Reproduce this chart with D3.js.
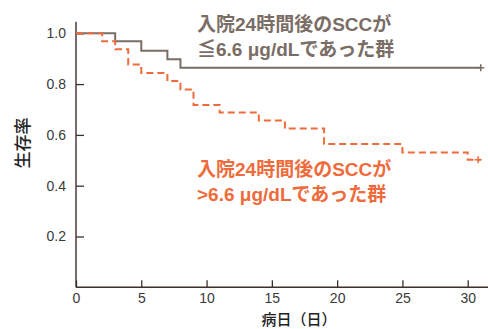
<!DOCTYPE html>
<html><head><meta charset="utf-8">
<script src="https://cdn.jsdelivr.net/npm/d3@7"></script>
<style>
body{margin:0;background:#fff;}
svg{display:block;}
</style>
</head><body>
<svg id="c" width="488" height="329"></svg>
<script>
const xTicks = [0,5,10,15,20,25,30];
const yTicks = [0.2,0.4,0.6,0.8,1.0];
const lowDays = [0,3,5,7,8,31];
const lowSurv = [1.0,0.969,0.931,0.898,0.864,0.864];
const highDays = [0,2,3,4,5,7,8,9,11,14,16,19,25,30,31];
const highSurv = [1.0,0.969,0.937,0.877,0.844,0.812,0.779,0.718,0.688,0.657,0.625,0.564,0.531,0.502,0.502];
const lowCensor = [31];
const highCensor = [30.8];
const lowLabel = ["入院24時間後のSCCが","≦6.6 μg/dLであった群"];
const highLabel = ["入院24時間後のSCCが",">6.6 μg/dLであった群"];
const yTitle = "生存率";
const xTitle = "病日（日）";

const grayC = "#7a6d65", orangeC = "#ef6b3b", axisC = "#3b302c";
const svg = d3.select("#c");
const x = d3.scaleLinear().domain([0,30]).range([76,467.7]);
const y = d3.scaleLinear().domain([0,1]).range([287.3,33.3]);

// axes
const xa = svg.append("g").attr("transform","translate(0,287.3)")
  .call(d3.axisBottom(x).tickValues(xTicks).tickSize(-7).tickPadding(6).tickFormat(d3.format("d")));
const ya = svg.append("g").attr("transform","translate(76,0)")
  .call(d3.axisLeft(y).tickValues(yTicks).tickSize(-8).tickPadding(10).tickFormat(d3.format(".1f")));
[xa,ya].forEach(g=>{
  g.select(".domain").remove();
  g.selectAll("line").attr("stroke",axisC).attr("stroke-width",1.3);
  g.selectAll("text").attr("fill","#3a3a3a").style("font-family","'Liberation Sans',Arial,sans-serif").style("font-size","14px");
});
svg.append("line").attr("x1",76).attr("x2",488).attr("y1",287.3).attr("y2",287.3).attr("stroke",axisC).attr("stroke-width",1.4);
svg.append("line").attr("x1",76).attr("x2",76).attr("y1",21.7).attr("y2",287.3).attr("stroke",axisC).attr("stroke-width",1.4);

const line = d3.line().x(d=>x(d[0])).y(d=>y(d[1])).curve(d3.curveStepAfter);
svg.append("path").datum(lowDays.map((d,i)=>[d,lowSurv[i]])).attr("d",line)
  .attr("fill","none").attr("stroke",grayC).attr("stroke-width",2);
svg.append("path").datum(highDays.map((d,i)=>[d,highSurv[i]])).attr("d",line)
  .attr("fill","none").attr("stroke",orangeC).attr("stroke-width",2).attr("stroke-dasharray","7,4");

function plus(d,v,c){
  const cx=x(d), cy=y(v);
  svg.append("path").attr("d",`M${cx-3.5},${cy}H${cx+3.5}M${cx},${cy-3.5}V${cy+3.5}`).attr("stroke",c).attr("stroke-width",1.5);
}
lowCensor.forEach(d=>plus(d,lowSurv[lowSurv.length-1],grayC));
highCensor.forEach(d=>plus(d,highSurv[highSurv.length-1],orangeC));

function label(lines,x0,y0,c){
  const t = svg.append("text").attr("fill",c).style("font-family","'Liberation Sans','Noto Sans CJK JP',sans-serif")
    .style("font-size","19px").style("font-weight","bold");
  lines.forEach((s,i)=>t.append("tspan").attr("x",x0).attr("y",y0+i*25).text(s));
}
label(lowLabel,197,31,grayC);
label(highLabel,197,176,orangeC);

svg.append("text").attr("transform","translate(29,143) rotate(-90)").attr("text-anchor","middle")
  .style("font-family","'Noto Sans CJK JP',sans-serif").style("font-size","17px").style("font-weight","500").attr("fill","#222").text(yTitle);
svg.append("text").attr("x",299).attr("y",325).attr("text-anchor","middle")
  .style("font-family","'Noto Sans CJK JP',sans-serif").style("font-size","15px").style("font-weight","500").attr("fill","#222").text(xTitle);
</script>
</body></html>
